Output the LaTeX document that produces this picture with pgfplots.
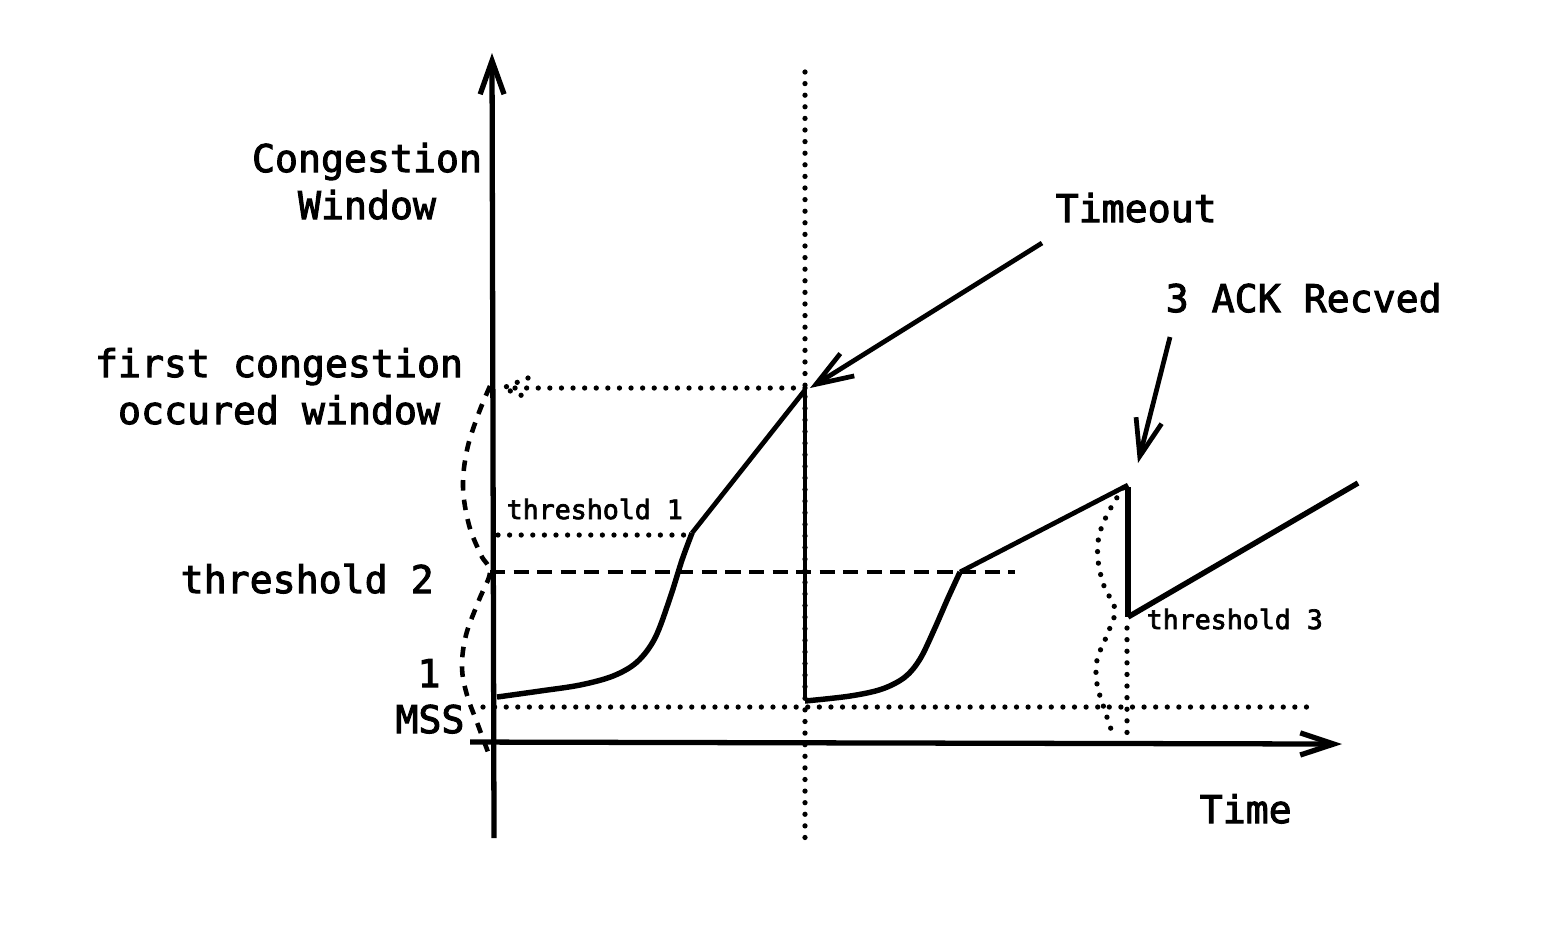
\documentclass[border=0pt]{standalone}
\usepackage{pgfplots}
\pgfplotsset{compat=1.18}
\usepackage{fontspec}
\usetikzlibrary{arrows.meta}
\newfontfamily\mono{DejaVu Sans Mono}
\newcommand{\heavy}[2]{\special{pdf:literal direct 2 Tr #1 w}#2\special{pdf:literal direct 0 Tr}}
\newcommand{\bigf}{\mono\fontsize{10.87}{13}\selectfont}
\newcommand{\smallf}{\mono\fontsize{7.57}{9}\selectfont}
\newcommand{\bt}[1]{\heavy{0.28}{#1}}
\newcommand{\st}[1]{\heavy{0.2}{#1}}
\begin{document}
\begin{tikzpicture}
\begin{axis}[
  scale only axis, width=441.6pt, height=266.9pt,
  xmin=0, xmax=1552, ymin=0, ymax=938, y dir=reverse,
  hide axis, clip=false,
]
\addplot[draw=none] coordinates {(0,0) (1552,938)};
% styles
\pgfplotsset{
  dotl/.style={line width=1.5pt, line cap=round, dash pattern=on 0pt off 3.3pt},
  dashl/.style={line width=1.4pt, dash pattern=on 4.3pt off 2.4pt},
}
% dotted vertical at timeout
\addplot[dotl] coordinates {(805,72) (805,848)};
% dotted horizontal: first congestion window
\addplot[dotl] coordinates {(805,388) (507,388)};
\addplot[dotl] coordinates {(528,378) (503,388) (528,398)};
% threshold 1 dotted
\addplot[dotl] coordinates {(498,535) (690,535)};
% 1 MSS dotted
\addplot[dotl] coordinates {(483,707) (1310,707)};
% threshold 2 dashed
\addplot[dashl] coordinates {(490,572) (1015,572)};
% left wavy dashed
\addplot[line width=1.3pt, dash pattern=on 3pt off 2.6pt, smooth, tension=0.6] coordinates {
 (490,386) (478,415) (467,450) (463,487) (469,525) (481,555) (490,572)
 (479,600) (466,635) (462,667) (467,695) (478,725) (488,752)};
% right wavy dotted
\addplot[dotl, smooth, tension=0.6] coordinates {
 (1123,488) (1108,513) (1099,536) (1098,560) (1104,586) (1115,610)
 (1107,635) (1097,660) (1097,684) (1104,708) (1113,735)};
\addplot[dotl] coordinates {(1127,628) (1127,742)};
% axes
\addplot[line width=1.5pt, -{Straight Barb[length=9.5pt,width=6.8pt]}] coordinates {(494,838) (492,53)};
\addplot[line width=1.5pt, -{Straight Barb[length=9.5pt,width=6.3pt]}] coordinates {(470,742) (1342,744)};
% congestion window curve
\addplot[line width=1.55pt, smooth, tension=0.55] coordinates {
 (497,697) (540,691) (580,685) (613,676) (637,662) (655,638) (670,598) (682,560) (692,533)};
\addplot[line width=1.35pt] coordinates {(692,533) (805,390)};
\addplot[line width=1.35pt] coordinates {(805,388) (805,700)};
\addplot[line width=1.55pt, smooth, tension=0.55] coordinates {
 (805,701) (850,696) (882,689) (905,677) (920,659) (934,630) (948,598) (960,572)};
\addplot[line width=1.35pt] coordinates {(960,572) (1128,485)};
\addplot[line width=1.5pt] coordinates {(1128,487) (1128,617)};
\addplot[line width=1.55pt] coordinates {(1128,617) (1358,483)};
% annotation arrows
\addplot[line width=1.35pt, -{Straight Barb[length=10.5pt,width=7.5pt]}] coordinates {(1042,243) (810,388)};
\addplot[line width=1.35pt, -{Straight Barb[length=10.5pt,width=7.5pt]}] coordinates {(1170,337) (1138,463)};
% texts
\node[anchor=base, inner sep=0pt, font=\bigf] at (axis cs:367,172) {\bt{Congestion}};
\node[anchor=base, inner sep=0pt, font=\bigf] at (axis cs:367,219) {\bt{Window}};
\node[anchor=base, inner sep=0pt, font=\bigf] at (axis cs:279,377) {\bt{first congestion}};
\node[anchor=base, inner sep=0pt, font=\bigf] at (axis cs:279,424) {\bt{occured window}};
\node[anchor=base west, inner sep=0pt, font=\bigf] at (axis cs:180,593) {\bt{threshold 2}};
\node[anchor=base, inner sep=0pt, font=\bigf] at (axis cs:429,687) {\bt{1}};
\node[anchor=base, inner sep=0pt, font=\bigf] at (axis cs:430,733) {\bt{MSS}};
\node[anchor=base west, inner sep=0pt, font=\bigf] at (axis cs:1055,222) {\bt{Timeout}};
\node[anchor=base west, inner sep=0pt, font=\bigf] at (axis cs:1165,312) {\bt{3 ACK Recved}};
\node[anchor=base west, inner sep=0pt, font=\bigf] at (axis cs:1199,823) {\bt{Time}};
\node[anchor=base west, inner sep=0pt, font=\smallf] at (axis cs:506,519) {\st{threshold 1}};
\node[anchor=base west, inner sep=0pt, font=\smallf] at (axis cs:1146,629) {\st{threshold 3}};
\end{axis}
\end{tikzpicture}
\end{document}
